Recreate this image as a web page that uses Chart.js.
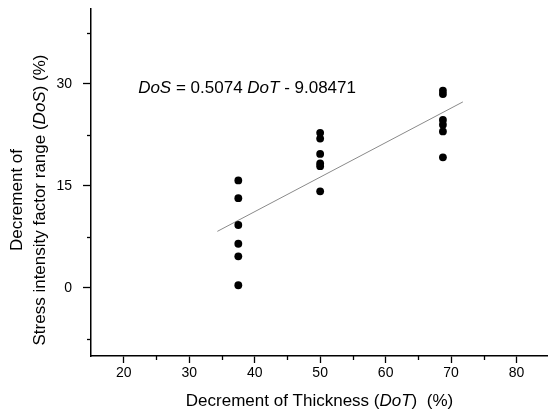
<!DOCTYPE html>
<html><head><meta charset="utf-8">
<script src="https://cdn.jsdelivr.net/npm/chart.js@4/dist/chart.umd.min.js"></script>
<style>html,body{margin:0;padding:0;background:#fff}#wrap{width:548px;height:412px}</style>
</head><body><div id="wrap"><canvas id="c" width="548" height="412"></canvas></div>
<script>
// ---- data ----
const doT = [37.5,37.5,37.5,37.5,37.5,37.5, 50,50,50,50,50,50, 68.75,68.75,68.75,68.75,68.75,68.75];
const doS = [15.8,13.2,9.25,6.5,4.65,0.4, 22.8,21.95,19.7,18.3,17.9,14.2, 29.0,28.5,24.7,24.0,23.0,19.2];
const fitSlope = 0.5074;
const fitIntercept = -9.08471;
const fitRange = [34.3, 71.8];
const xMajorTicks = [20,30,40,50,60,70,80];
const xMinorTicks = [25,35,45,55,65,75];
const yMajorTicks = [0,15,30];
const yMinorTicks = [-7.5,7.5,22.5,37.5];
const xRange = [15, 84.8];
const yRange = [-10, 41];
const eqAnchor = {x: 22.2, y: 29.3};

const FONT = "Arial, 'Liberation Sans', sans-serif";
const points = doT.map((x,i)=>({x:x, y:doS[i]}));
const fitLine = fitRange.map(x=>({x:x, y:fitSlope*x+fitIntercept}));

function drawSegments(ctx, segs, size){
  let w=0;
  segs.forEach(s=>{ctx.font=(s.i?'italic ':'')+size+'px '+FONT; s.w=ctx.measureText(s.t).width; w+=s.w;});
  return w;
}
function paintSegments(ctx, segs, size, x0, y){
  let x=x0;
  segs.forEach(s=>{ctx.font=(s.i?'italic ':'')+size+'px '+FONT; ctx.fillText(s.t,x,y); x+=s.w;});
}

const decor = {
  id:'decor',
  afterDraw(chart){
    const ctx=chart.ctx, xs=chart.scales.x, ys=chart.scales.y, ca=chart.chartArea;
    ctx.save();
    ctx.strokeStyle='#000'; ctx.lineWidth=1.3;
    xMinorTicks.forEach(v=>{const p=Math.round(xs.getPixelForValue(v))+0.5; ctx.beginPath(); ctx.moveTo(p,ca.bottom); ctx.lineTo(p,ca.bottom+4); ctx.stroke();});
    yMinorTicks.forEach(v=>{const p=Math.round(ys.getPixelForValue(v))+0.5; ctx.beginPath(); ctx.moveTo(ca.left,p); ctx.lineTo(ca.left-4,p); ctx.stroke();});
    ctx.fillStyle='#000'; ctx.textBaseline='middle'; ctx.textAlign='left';
    // equation
    const eq=[{t:'DoS',i:true},{t:' = 0.5074 ',i:false},{t:'DoT',i:true},{t:' - 9.08471',i:false}];
    drawSegments(ctx,eq,17);
    paintSegments(ctx,eq,17,xs.getPixelForValue(eqAnchor.x),ys.getPixelForValue(eqAnchor.y));
    // x title
    const xt=[{t:'Decrement of Thickness (',i:false},{t:'DoT',i:true},{t:')  (%)',i:false}];
    const xw=drawSegments(ctx,xt,17);
    paintSegments(ctx,xt,17,(ca.left+ca.right)/2-xw/2,401);
    // y title
    ctx.save();
    ctx.translate(17,200); ctx.rotate(-Math.PI/2);
    const y1=[{t:'Decrement of',i:false}];
    const w1=drawSegments(ctx,y1,17);
    paintSegments(ctx,y1,17,-w1/2,0);
    ctx.restore();
    ctx.save();
    ctx.translate(40,200); ctx.rotate(-Math.PI/2);
    const y2=[{t:'Stress intensity factor range (',i:false},{t:'DoS',i:true},{t:') (%)',i:false}];
    const w2=drawSegments(ctx,y2,17);
    paintSegments(ctx,y2,17,-w2/2,0);
    ctx.restore();
    ctx.restore();
  }
};

function noPad(s){s.paddingTop=0;s.paddingBottom=0;s.paddingLeft=0;s.paddingRight=0;}

new Chart(document.getElementById('c'),{
  type:'scatter',
  data:{datasets:[
    {data:points, backgroundColor:'#000', borderColor:'#000', pointRadius:3.9, borderWidth:0, pointHoverRadius:3.9},
    {type:'line', data:fitLine, borderColor:'#8a8a8a', borderWidth:1, pointRadius:0, fill:false, showLine:true, tension:0}
  ]},
  options:{
    responsive:false, animation:false, events:[],
    layout:{autoPadding:false, padding:{top:9,right:0,left:0,bottom:0}},
    plugins:{legend:{display:false}, tooltip:{enabled:false}},
    scales:{
      x:{type:'linear', min:xRange[0], max:xRange[1],
        afterBuildTicks:s=>{s.ticks=xMajorTicks.map(v=>({value:v}));},
        afterFit:s=>{s.height=56; noPad(s);},
        grid:{drawOnChartArea:false, tickLength:7, tickColor:'#000', tickWidth:1.3},
        border:{color:'#000', width:1.5},
        ticks:{color:'#000', font:{family:FONT,size:14}, padding:2, maxRotation:0, autoSkip:false}
      },
      y:{type:'linear', min:yRange[0], max:yRange[1],
        afterBuildTicks:s=>{s.ticks=yMajorTicks.map(v=>({value:v}));},
        afterFit:s=>{s.width=91; noPad(s);},
        grid:{drawOnChartArea:false, tickLength:8, tickColor:'#000', tickWidth:1.3},
        border:{color:'#000', width:1.5},
        ticks:{color:'#000', font:{family:FONT,size:14}, padding:11, autoSkip:false}
      }
    }
  },
  plugins:[decor]
});
</script></body></html>
